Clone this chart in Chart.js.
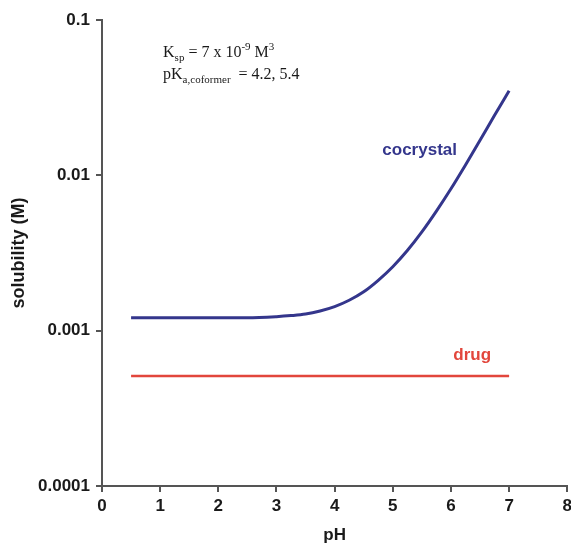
<!DOCTYPE html>
<html>
<head>
<meta charset="utf-8">
<script src="https://cdn.jsdelivr.net/npm/chart.js@4.4.1/dist/chart.umd.min.js"></script>
<style>
  html, body { margin: 0; padding: 0; background: #fff; overflow: hidden; }
  #wrap { width: 576px; height: 550px; }
</style>
</head>
<body>
<div id="wrap"><canvas id="myChart"></canvas></div>
<script>
    // pH values
    let phValues = [0.5, 1, 1.5, 2, 2.5, 3, 3.25, 3.5, 3.75, 4, 4.25, 4.5, 4.75, 5, 5.25, 5.5, 5.75, 6, 6.25, 6.5, 6.75, 7];
    // cocrystal solubility (M)
    let cocrystal = [0.00121, 0.00121, 0.00121, 0.00121, 0.00121, 0.00123, 0.00125, 0.00128, 0.00134, 0.00143, 0.00157, 0.00178, 0.00211, 0.00258, 0.00328, 0.00432, 0.00588, 0.00819, 0.01166, 0.0168, 0.0244, 0.0350];
    // drug solubility (M)
    let drugPh = [0.5, 7];
    let drug = [0.00051, 0.00051];
    // tick labels
    let xTicks = [0, 1, 2, 3, 4, 5, 6, 7, 8];
    let yTicks = [0.0001, 0.001, 0.01, 0.1];
    let yLabels = ["0.0001", "0.001", "0.01", "0.1"];

    let axisColor = "#555555";
    let blue = "#34368c";
    let red = "#e2463c";

    // text runs: [text, mode] mode n / sub / sup
    function drawRuns(ctx, x, y, runs) {
        runs.forEach(function (r) {
            let small = r[1] !== "n";
            ctx.font = (small ? "11px" : "16px") + " 'Liberation Serif', serif";
            let dy = r[1] === "sub" ? 4 : (r[1] === "sup" ? -7 : 0);
            ctx.fillText(r[0], x, y + dy);
            x += ctx.measureText(r[0]).width;
        });
    }

    let labelPlugin = {
        id: "labels",
        afterDatasetsDraw: function (chart) {
            let ctx = chart.ctx;
            let xs = chart.scales.x, ys = chart.scales.y;
            ctx.save();
            ctx.fillStyle = "#1a1a1a";
            ctx.textBaseline = "alphabetic";
            ctx.textAlign = "left";
            let lx = xs.getPixelForValue(1.05);
            drawRuns(ctx, lx, ys.getPixelForValue(0.0577), [["K", "n"], ["sp", "sub"], [" = 7 x 10", "n"], ["-9", "sup"], [" M", "n"], ["3", "sup"]]);
            drawRuns(ctx, lx, ys.getPixelForValue(0.0416), [["pK", "n"], ["a,coformer", "sub"], ["  = 4.2, 5.4", "n"]]);
            ctx.textBaseline = "middle";
            ctx.font = "bold 17px 'Liberation Sans', Arial, sans-serif";
            ctx.fillStyle = blue;
            ctx.fillText("cocrystal", xs.getPixelForValue(4.82), ys.getPixelForValue(0.0145));
            ctx.fillStyle = red;
            ctx.fillText("drug", xs.getPixelForValue(6.04), ys.getPixelForValue(0.00069));
            ctx.restore();
        }
    };

    let tickFont = { family: "'Liberation Sans', Arial, sans-serif", size: 17, weight: "bold" };
    let titleFont = { family: "'Liberation Sans', Arial, sans-serif", size: 17, weight: "bold" };

    let ctx = document.getElementById("myChart");
    let myChart = new Chart(ctx, {
        type: "line",
        data: {
            datasets: [{
                    label: "cocrystal",
                    data: phValues.map(function (p, i) { return { x: p, y: cocrystal[i] }; }),
                    borderColor: blue,
                    borderWidth: 3,
                    pointRadius: 0,
                    cubicInterpolationMode: "monotone",
                    fill: false
                },
                {
                    label: "drug",
                    data: drugPh.map(function (p, i) { return { x: p, y: drug[i] }; }),
                    borderColor: red,
                    borderWidth: 2.5,
                    pointRadius: 0,
                    fill: false
                }
            ]
        },
        options: {
            responsive: true,
            maintainAspectRatio: false,
            animation: false,
            layout: { padding: { top: 20, right: 0, left: 0, bottom: 0 } },
            plugins: {
                legend: { display: false },
                tooltip: { enabled: false }
            },
            scales: {
                x: {
                    type: "linear",
                    min: 0,
                    max: 8,
                    afterBuildTicks: function (scale) {
                        scale.ticks = xTicks.map(function (v) { return { value: v }; });
                    },
                    afterFit: function (scale) { scale.height = 64; },
                    ticks: { color: "#1a1a1a", font: tickFont, padding: 4, maxRotation: 0 },
                    grid: { drawOnChartArea: false, drawTicks: true, tickLength: 6, color: axisColor, lineWidth: 2 },
                    border: { color: axisColor, width: 2 },
                    title: {
                        display: true,
                        text: "pH",
                        color: "#1a1a1a",
                        font: titleFont,
                        padding: { top: 17 }
                    }
                },
                y: {
                    type: "logarithmic",
                    min: 0.0001,
                    max: 0.1,
                    afterBuildTicks: function (scale) {
                        scale.ticks = yTicks.map(function (v) { return { value: v }; });
                    },
                    afterFit: function (scale) { scale.width = 102; },
                    ticks: {
                        color: "#1a1a1a",
                        font: tickFont,
                        padding: 6,
                        callback: function (v) {
                            let i = yTicks.indexOf(v);
                            return i >= 0 ? yLabels[i] : "";
                        }
                    },
                    grid: { drawOnChartArea: false, drawTicks: true, tickLength: 6, color: axisColor, lineWidth: 2 },
                    border: { color: axisColor, width: 2 },
                    title: {
                        display: true,
                        text: "solubility (M)",
                        color: "#1a1a1a",
                        font: { family: "'Liberation Sans', Arial, sans-serif", size: 18, weight: "bold" },
                        padding: { top: 8, bottom: 4 }
                    }
                }
            }
        },
        plugins: [labelPlugin]
    });
</script>
</body>
</html>
